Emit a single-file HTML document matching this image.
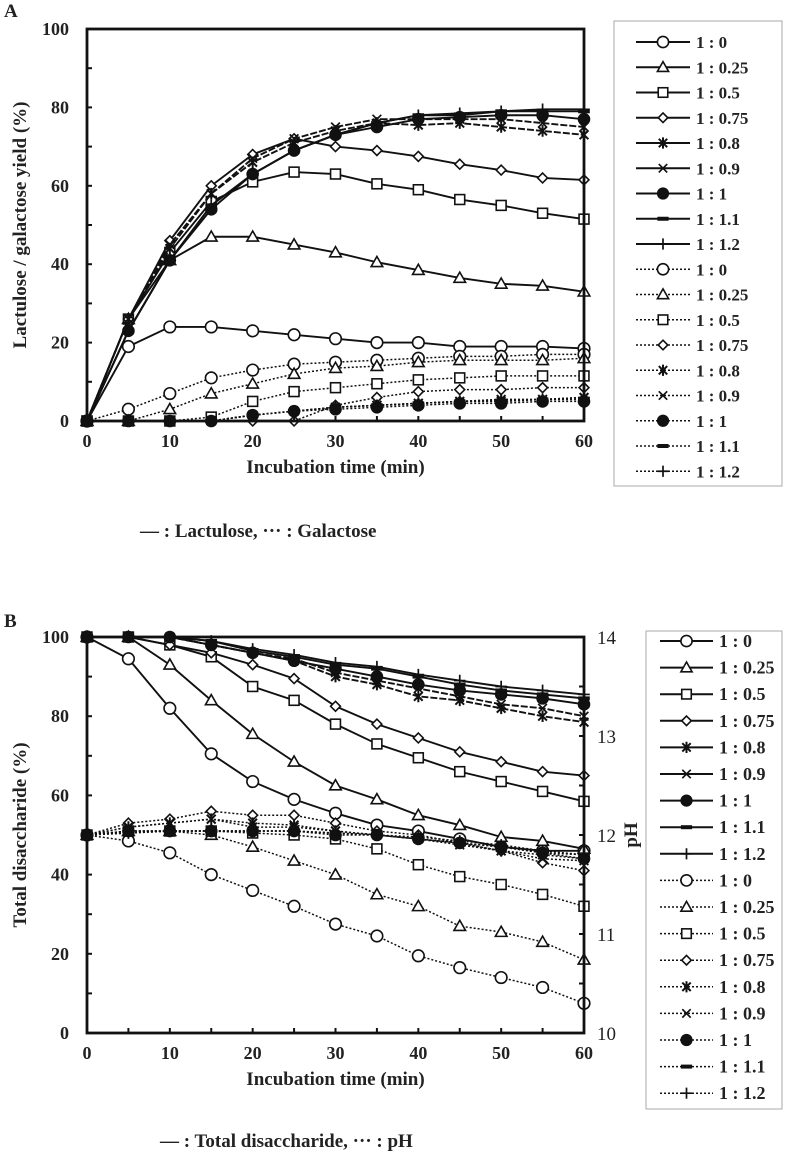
<!DOCTYPE html>
<html><head><meta charset="utf-8">
<style>
html,body{margin:0;padding:0;background:#fff}
svg{display:block;font-family:"Liberation Serif",serif}
</style></head>
<body>
<svg id="fig" width="793" height="1157" viewBox="0 0 793 1157" xmlns="http://www.w3.org/2000/svg"></svg>
<script>
const times=[0,5,10,15,20,25,30,35,40,45,50,55,60];
const ratios=["1 : 0","1 : 0.25","1 : 0.5","1 : 0.75","1 : 0.8","1 : 0.9","1 : 1","1 : 1.1","1 : 1.2"];
const markers=["circle","triangle","square","diamond","star","cross","dot","dash","plus"];
const yTicksA=[0,20,40,60,80,100];
const xTicks=[0,10,20,30,40,50,60];
const yTicksB=[0,20,40,60,80,100];
const phTicks=[10,11,12,13,14];
// Panel A lactulose (%)
const lacA=[
[0,19,24,24,23,22,21,20,20,19,19,19,18.5],
[0,26,41,47,47,45,43,40.5,38.5,36.5,35,34.5,33],
[0,26,43,56,61,63.5,63,60.5,59,56.5,55,53,51.5],
[0,26,46,60,68,72,70,69,67.5,65.5,64,62,61.5],
[0,26,44,58,66,71,74,76,75.5,76,75,74,73],
[0,26,45,58,67,72,75,77,77,77,77,76,75],
[0,23,41,54,63,69,73,75,77,77.5,78,78,77],
[0,23,41,55,63,69,73,76,78,78,79,79,79],
[0,23,41,55,63,69,73,76,78,78.5,79,79.5,79.5]];
// Panel A galactose (%)
const galA=[
[0,3,7,11,13,14.5,15,15.5,16,16.5,16.5,17,17],
[0,0,3,7,9.5,12,13.5,14,15,15.5,15.5,15.5,16],
[0,0,0,1,5,7.5,8.5,9.5,10.5,11,11.5,11.5,11.5],
[0,0,0,0,0,0,4,6,7.5,8,8,8.5,8.5],
[0,0,0,0,1.5,2.5,3.5,4,4.5,5,5.5,5.5,6],
[0,0,0,0,1.5,2.5,3.5,4,4.5,5,5,5.5,6],
[0,0,0,0,1.5,2.5,3,3.5,4,4.5,4.5,5,5],
[0,0,0,0,1.5,2.5,3.5,4,4.5,5,5,5.5,5.5],
[0,0,0,0,1.5,2.5,3.5,4,4.5,5,5.5,5.5,6]];
// Panel B total disaccharide (%)
const disB=[
[100,94.5,82,70.5,63.5,59,55.5,52.5,51,49,47,46,46],
[100,100,93,84,75.5,68.5,62.5,59,55,52.5,49.5,48.5,46.5],
[100,100,98,95,87.5,84,78,73,69.5,66,63.5,61,58.5],
[100,100,98,96,93,89.5,82.5,78,74.5,71,68.5,66,65],
[100,100,100,98,96,94,90,88,85,84,82,80,78.5],
[100,100,100,98,96,94.5,91,89,87,85,83,82,80],
[100,100,100,98,96,94,92,90,88,86.5,85.5,84.5,83],
[100,100,100,99,96.5,95,93,92,90,88,86.5,85.5,84.5],
[100,100,100,99,97,95.5,93.5,92.5,90.5,89,87.5,86.5,85.5]];
// Panel B pH
const phB=[
[12,11.94,11.82,11.6,11.44,11.28,11.1,10.98,10.78,10.66,10.56,10.46,10.3],
[12,12.04,12.04,12,11.88,11.74,11.6,11.4,11.28,11.08,11.02,10.92,10.74],
[12,12.04,12.04,12.04,12.02,12,11.96,11.86,11.7,11.58,11.5,11.4,11.28],
[12,12.12,12.16,12.24,12.2,12.2,12.12,12.04,12,11.92,11.84,11.72,11.64],
[12,12.08,12.12,12.16,12.12,12.1,12.04,12,11.96,11.92,11.84,11.8,11.76],
[12,12.08,12.12,12.16,12.08,12.08,12.04,12,11.96,11.9,11.84,11.76,11.74],
[12,12.04,12.04,12.04,12.04,12.04,12,12,11.96,11.92,11.88,11.82,11.76],
[12,12.02,12.04,12.04,12.04,12.04,12.02,12,11.96,11.92,11.88,11.82,11.8],
[12,12.02,12.04,12.04,12.04,12.04,12.02,12,11.98,11.94,11.9,11.84,11.8]];

const NS="http://www.w3.org/2000/svg";
const svg=document.getElementById('fig');
function mk(tag,attrs,parent){const e=document.createElementNS(NS,tag);for(const k in attrs)e.setAttribute(k,attrs[k]);(parent||svg).appendChild(e);return e;}
function txt(s,attrs,parent){const e=mk('text',attrs,parent);e.textContent=s;return e;}

function marker(g,type,x,y,s){
  const st={stroke:'#111','stroke-width':1.6,fill:'#fff'};
  let e;
  if(type==='circle'){e=mk('circle',Object.assign({cx:x,cy:y,r:s},st),g);}
  else if(type==='dot'){e=mk('circle',{cx:x,cy:y,r:s,fill:'#111',stroke:'#111'},g);}
  else if(type==='triangle'){e=mk('polygon',Object.assign({points:`${x},${y-s} ${x-s},${y+s*0.75} ${x+s},${y+s*0.75}`},st),g);}
  else if(type==='square'){e=mk('rect',Object.assign({x:x-s*0.85,y:y-s*0.85,width:s*1.7,height:s*1.7},st),g);}
  else if(type==='diamond'){e=mk('polygon',Object.assign({points:`${x},${y-s*0.85} ${x+s*0.85},${y} ${x},${y+s*0.85} ${x-s*0.85},${y}`},st),g);}
  else if(type==='cross'){e=mk('path',{d:`M${x-s*0.75},${y-s*0.75}L${x+s*0.75},${y+s*0.75}M${x-s*0.75},${y+s*0.75}L${x+s*0.75},${y-s*0.75}`,stroke:'#111','stroke-width':1.7},g);}
  else if(type==='star'){e=mk('path',{d:`M${x-s*0.75},${y-s*0.75}L${x+s*0.75},${y+s*0.75}M${x-s*0.75},${y+s*0.75}L${x+s*0.75},${y-s*0.75}M${x},${y-s}L${x},${y+s}`,stroke:'#111','stroke-width':2},g);}
  else if(type==='dash'){e=mk('rect',{x:x-s,y:y-2,width:s*2,height:4,fill:'#111'},g);}
  else if(type==='plus'){e=mk('path',{d:`M${x-s},${y}L${x+s},${y}M${x},${y-s}L${x},${y+s}`,stroke:'#111','stroke-width':1.7},g);}
  return e;
}

function panel(cfg){
  const {x0,x1,y0,y1,id}=cfg;
  const X=t=>x0+(t-0)/60*(x1-x0);
  const g=mk('g',{});
  
  
  cfg.series.forEach(sd=>{
    sd.data.forEach((vals,i)=>{
      const sg=mk('g',{},g);
      
      
      const pts=vals.map((v,j)=>[X(times[j]),sd.Y(v)]);
      const dash=sd.dotted?'2,2':((i===4||i===5)?'7,2':'none');
      mk('polyline',{points:pts.map(p=>p.join(',')).join(' '),fill:'none',stroke:'#111','stroke-width':sd.dotted?1.5:1.9,'stroke-dasharray':dash},sg);
      pts.forEach(p=>marker(sg,markers[i],p[0],p[1],5.8));
    });
  });
  const fr=mk('rect',{x:x0,y:y1,width:x1-x0,height:y0-y1,fill:'none',stroke:'#111','stroke-width':2.8},g);
  
  
  return {g,X};
}

function yAxisLeft(cfg,ticks,Y,minor){
  const g=mk('g',{});
  
  
  ticks.forEach(v=>{
    txt(String(v),{x:cfg.x0-18,y:Y(v)+6,'text-anchor':'end','font-size':18,'font-weight':'bold',fill:'#222'},g);
  });
  for(let v=ticks[0];v<=ticks[ticks.length-1];v+=minor){
    mk('line',{x1:cfg.x0,x2:cfg.x0+5,y1:Y(v),y2:Y(v),stroke:'#111','stroke-width':2},g);
  }
}
function xAxis(cfg,X){
  const g=mk('g',{});
  
  
  xTicks.forEach(t=>{
    txt(String(t),{x:X(t),y:cfg.y0+26,'text-anchor':'middle','font-size':18,'font-weight':'bold',fill:'#222'},g);
  });
  times.forEach(t=>mk('line',{x1:X(t),x2:X(t),y1:cfg.y0,y2:cfg.y0-5,stroke:'#111','stroke-width':2},g));
  const tl=txt('Incubation time (min)',{x:(cfg.x0+cfg.x1)/2,y:cfg.y0+52,'text-anchor':'middle','font-size':19,'font-weight':'bold',fill:'#222'},g);
  
  
}
function legend(cfg){
  const g=mk('g',{});
  
  
  mk('rect',{x:cfg.bx,y:cfg.by,width:cfg.bw,height:cfg.bh,fill:'#fff',stroke:'#aaa','stroke-width':1},g);
  for(let k=0;k<18;k++){
    const i=k%9, dotted=k>=9;
    const y=cfg.first+k*cfg.step;
    const eg=mk('g',{},g);
    
    
    const dash=dotted?'2,2':'none';
    mk('line',{x1:cfg.lx,x2:cfg.lx+cfg.lw,y1:y,y2:y,stroke:'#111','stroke-width':dotted?1.5:2,'stroke-dasharray':dash},eg);
    marker(eg,markers[i],cfg.lx+cfg.lw/2,y,5.6);
    txt(ratios[i],{x:cfg.lx+cfg.lw+6,y:y+6,'font-size':cfg.fs,'font-weight':'bold',fill:'#222'},eg);
  }
}

// ---------- Panel A ----------
const A={id:'panel-a',x0:87,x1:584,y0:421,y1:29};
const YA=v=>A.y0-v/100*(A.y0-A.y1);
A.series=[{name:'lactulose',data:lacA,Y:YA,dotted:false},{name:'galactose',data:galA,Y:YA,dotted:true}];
const pa=panel(A);
yAxisLeft(A,yTicksA,YA,10);
xAxis(A,pa.X);
let t=txt('A',{x:4,y:17,'font-size':19,'font-weight':'bold',fill:'#222'});

t=txt('Lactulose / galactose yield (%)',{x:0,y:0,transform:`translate(26,${(A.y0+A.y1)/2}) rotate(-90)`,'text-anchor':'middle','font-size':19,'font-weight':'bold',fill:'#222'});

t=txt('— : Lactulose,  ··· : Galactose',{x:140,y:537,'font-size':19,'font-weight':'bold',fill:'#222'});

legend({id:'panel-a',bx:614,by:21,bw:168,bh:465,first:42,step:25.25,lx:636,lw:54,fs:17});

// ---------- Panel B ----------
const B={id:'panel-b',x0:87,x1:584,y0:1033,y1:637};
const YB=v=>B.y0-v/100*(B.y0-B.y1);
const YpH=v=>B.y0-(v-10)/4*(B.y0-B.y1);
B.series=[{name:'disaccharide',data:disB,Y:YB,dotted:false},{name:'ph',data:phB,Y:YpH,dotted:true}];
const pb=panel(B);
yAxisLeft(B,yTicksB,YB,10);
xAxis(B,pb.X);
const rg=mk('g',{});

phTicks.forEach(v=>{
  txt(String(v),{x:597,y:YpH(v)+7,'font-size':19,fill:'#222'},rg);
});
for(let v=10;v<=14;v+=0.5){mk('line',{x1:B.x1,x2:B.x1-5,y1:YpH(v),y2:YpH(v),stroke:'#111','stroke-width':2},rg);}
t=txt('B',{x:4,y:627,'font-size':19,'font-weight':'bold',fill:'#222'});

t=txt('Total disaccharide (%)',{x:0,y:0,transform:`translate(26,${(B.y0+B.y1)/2}) rotate(-90)`,'text-anchor':'middle','font-size':19,'font-weight':'bold',fill:'#222'});

t=txt('pH',{x:0,y:0,transform:`translate(637,${(B.y0+B.y1)/2}) rotate(-90)`,'text-anchor':'middle','font-size':19,'font-weight':'bold',fill:'#222'});

t=txt('— : Total disaccharide,  ··· : pH',{x:160,y:1147,'font-size':19,'font-weight':'bold',fill:'#222'});

legend({id:'panel-b',bx:646,by:631,bw:136,bh:478,first:641,step:26.6,lx:660,lw:53,fs:18});
</script>
</body></html>
